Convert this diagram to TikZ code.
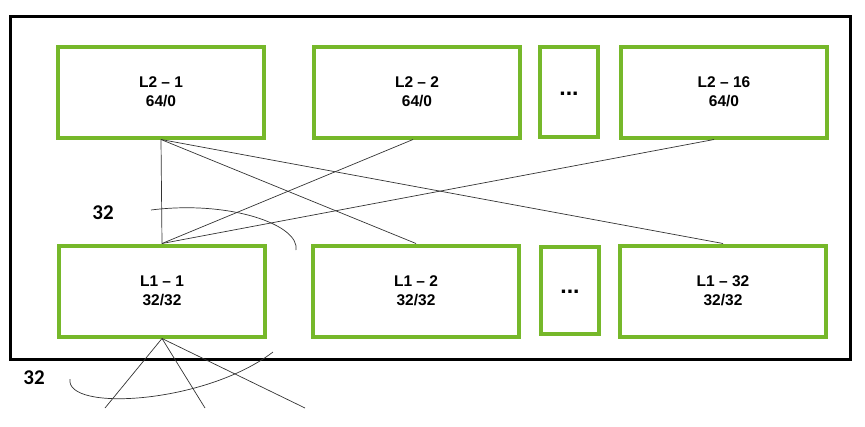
\documentclass[tikz,border=0pt]{standalone}
\usepackage{fontspec}
\setmainfont{Liberation Sans}
\newfontfamily\labelfont{Carlito}
\usetikzlibrary{positioning}
\definecolor{SwitchGreen}{HTML}{76B82A}
\definecolor{LinkGray}{HTML}{333333}

\begin{document}
\begin{tikzpicture}[x=1pt, y=1pt, every node/.style={font=\fontsize{15.5}{19}\selectfont\bfseries, align=center},
    switchbox/.style={draw=SwitchGreen, line width=4pt, minimum width=206pt, minimum height=91pt, inner sep=0pt},
    dotbox/.style={draw=SwitchGreen, line width=4pt, minimum width=58pt, minimum height=90pt, inner sep=0pt, font=\fontsize{23}{19}\selectfont\bfseries},
    link/.style={draw=LinkGray, line width=0.7pt}]
                \useasboundingbox (0,0) rectangle (865,-426);
                \draw[line width=3pt] (10,-16) rectangle (850,-359);
                
                % Level 2
                \node[switchbox] (l21) at (161,-92) {L2 -- 1\\64/0};
                \node[switchbox, right=46pt of l21] (l22) {L2 -- 2\\64/0};
                \node[dotbox, right=16pt of l22] (dtop) {\raisebox{-7pt}{...}};
                \node[switchbox, right=19pt of dtop] (l216) {L2 -- 16\\64/0};
                
                % Level 1
                \node[switchbox, below=104pt of l21, xshift=1pt] (l11) {L1 -- 1\\32/32};
                \node[switchbox, right=44pt of l11] (l12) {L1 -- 2\\32/32};
                \node[dotbox, right=18pt of l12, minimum height=87pt, yshift=1pt] (dbot) {\raisebox{-7pt}{...}};
                \node[switchbox, right=17pt of dbot, yshift=-1pt] (l132) {L1 -- 32\\32/32};
                
                % Links
                \draw[link] (l21.south) -- (l11.north);
                \draw[link] (l21.south) -- (l12.north);
                \draw[link] (l21.south) -- (l132.north);
                \draw[link] (l11.north) -- ([xshift=-4pt]l22.south);
                \draw[link] (l11.north) -- ([xshift=-10pt]l216.south);
                
                % Downlinks
                \coordinate (d1) at (105,-408);
                \coordinate (d2) at (205,-408);
                \coordinate (d3) at (305,-408);
                \foreach \d in {d1, d2, d3}
                    \draw[link] (l11.south) -- (\d);
                
                % Bundles
                \draw[link] (151,-210) .. controls (230,-200) and (300,-225) .. (296,-250);
                \draw[link] (70,-379) .. controls (65,-412) and (205,-404) .. (273,-352);
                \node[font=\labelfont\fontsize{21}{21}\selectfont\bfseries] (n32a) at (103,-213) {32};
                \node[font=\labelfont\fontsize{21}{21}\selectfont\bfseries] (n32b) at (34,-378) {32};
            \end{tikzpicture}
\end{document}
